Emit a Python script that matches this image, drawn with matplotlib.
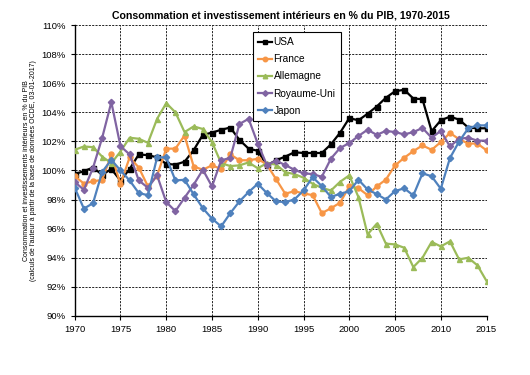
import matplotlib
matplotlib.use("Agg")
import matplotlib.pyplot as plt
from matplotlib.ticker import FuncFormatter

plt.rcParams['font.family'] = ['Liberation Sans', 'DejaVu Sans']

years = list(range(1970, 2016))

usa = [99.75, 99.95, 100.2, 99.7, 100.1, 99.3, 100.1, 101.1, 101.05, 100.9,
       100.45, 100.4, 100.6, 101.4, 102.45, 102.6, 102.8, 102.95, 102.1, 101.5,
       101.35, 100.35, 100.7, 100.95, 101.25, 101.2, 101.2, 101.2, 101.8, 102.6,
       103.6, 103.45, 103.9, 104.4, 105.0, 105.45, 105.55, 104.95, 104.9, 102.7,
       103.45, 103.7, 103.5, 102.95, 102.9, 102.9]
france = [99.6, 99.1, 99.25, 99.35, 101.1, 99.05, 100.9, 100.2, 98.9, 99.65,
          101.5, 101.5, 102.4, 100.27, 100.05, 100.35, 100.1, 101.1, 100.7, 100.7,
          100.8, 100.4, 99.4, 98.4, 98.57, 98.42, 98.3, 97.06, 97.4, 97.78,
          98.9, 98.78, 98.3, 98.9, 99.37, 100.34, 100.87, 101.33, 101.72, 101.42,
          101.95, 102.58, 102.15, 101.85, 101.85, 101.38]
allemagne = [101.42, 101.65, 101.6, 100.95, 100.5, 101.3, 102.25, 102.18, 101.9, 103.55,
             104.63, 104.0, 102.64, 103.03, 102.85, 101.95, 100.5, 100.3, 100.35, 100.55,
             100.15, 100.5, 100.4, 99.88, 99.75, 99.5, 99.08, 98.8, 98.62, 99.22,
             99.66, 98.17, 95.6, 96.33, 94.96, 94.91, 94.68, 93.35, 93.99, 95.08,
             94.77, 95.12, 93.88, 93.99, 93.47, 92.39]
royaume_uni = [99.2, 98.67, 100.18, 102.25, 104.7, 101.67, 101.1, 99.31, 98.81, 99.66,
               97.82, 97.2, 98.12, 99.02, 100.05, 98.9, 100.69, 100.87, 103.2, 103.55,
               101.85, 100.37, 100.67, 100.37, 100.05, 99.8, 99.75, 99.56, 100.82, 101.55,
               101.88, 102.37, 102.8, 102.45, 102.72, 102.64, 102.48, 102.64, 102.92, 102.25,
               102.72, 101.65, 102.18, 102.25, 102.05, 102.05]
japon = [98.81, 97.37, 97.75, 99.9, 100.73, 100.0, 99.31, 98.44, 98.3, 100.9,
         100.9, 99.31, 99.36, 98.35, 97.4, 96.68, 96.15, 97.06, 97.87, 98.51,
         99.08, 98.44, 97.87, 97.82, 98.0, 98.62, 99.54, 98.92, 98.17, 98.4,
         98.56, 99.36, 98.69, 98.37, 98.0, 98.58, 98.77, 98.28, 99.8, 99.6,
         98.74, 100.85, 101.99, 102.9, 103.1, 103.1]

series = [
    ("USA", usa, "#000000", "s"),
    ("France", france, "#F79646", "o"),
    ("Allemagne", allemagne, "#9BBB59", "^"),
    ("Royaume-Uni", royaume_uni, "#8064A2", "D"),
    ("Japon", japon, "#4F81BD", "D"),
]

fig = plt.figure(figsize=(5.3, 3.75), dpi=100)
ax = fig.add_axes([0.141, 0.158, 0.777, 0.775])

for name, vals, col, mk in series:
    ax.plot(years, vals, color=col, marker=mk, markersize=3.6 if mk != "D" else 3.2,
            linewidth=1.6, label=name, zorder=3)

ax.set_xlim(1970, 2015)
ax.set_ylim(90, 110)
ax.set_xticks(range(1970, 2016, 5))
ax.set_yticks(range(90, 111, 2))
ax.yaxis.set_major_formatter(FuncFormatter(lambda v, p: f"{int(v)}%"))
ax.grid(True, color="black", linestyle=(0, (2.5, 1.5)), linewidth=0.6)
ax.set_axisbelow(True)
ax.tick_params(labelsize=6.8, length=3, direction="out", width=0.8)
for s in ["top", "right"]:
    ax.spines[s].set_visible(False)
for s in ["left", "bottom"]:
    ax.spines[s].set_linewidth(1.0)

ax.set_title("Consommation et investissement intérieurs en % du PIB, 1970-2015",
             fontsize=7.6, fontweight="bold", pad=5)
ax.set_ylabel("Consommation et investissements intérieurs en % du PIB\n"
              "(calculs de l'auteur à partir de la base de données OCDE, 03-01-2017)",
              fontsize=5.0, labelpad=3, linespacing=1.1)

leg = ax.legend(loc="upper left", bbox_to_anchor=(0.42, 0.995), fontsize=7.3,
                frameon=True, fancybox=False, edgecolor="black", framealpha=1,
                handlelength=1.3, handletextpad=0.2, labelspacing=0.7,
                borderpad=0.55, markerscale=0.9)
leg.get_frame().set_linewidth(0.8)

fig.savefig("out.png", dpi=100)
